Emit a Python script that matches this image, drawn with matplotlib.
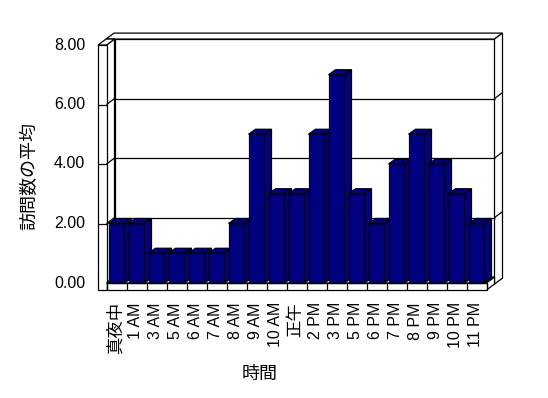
import matplotlib.pyplot as plt
from matplotlib.patches import Polygon

# data
hours = ["真夜中", "1 AM", "3 AM", "5 AM", "6 AM", "7 AM", "8 AM", "9 AM", "10 AM", "正午",
         "2 PM", "3 PM", "5 PM", "6 PM", "7 PM", "8 PM", "9 PM", "10 PM", "11 PM"]
visits = [2, 2, 1, 1, 1, 1, 2, 5, 3, 3, 5, 7, 3, 2, 4, 5, 4, 3, 2]
yticks = [0, 2, 4, 6, 8]

NAVY = "#000080"
LW = 0.9
LATIN = ["Liberation Sans", "Noto Sans CJK JP"]
CJK = ["Noto Sans CJK JP", "DejaVu Sans"]

fig = plt.figure(figsize=(5.48, 3.98), dpi=100)
ax = fig.add_axes([0, 0, 1, 1])
ax.axis("off")

# map data so one category = 20 px and one unit = 29.75 px
ax.set_xlim((0 - 116.5) / 20, (548 - 116.5) / 20)
ax.set_ylim((283 - 398) / 29.75, (283 - 0) / 29.75)

n = len(visits)
XL0, XL1, XR = -0.925, -0.5, n - 0.5
YB, YT = -0.235, 8
DX, DY = 0.4, 0.2          # one step of depth
BDX, BDY = 0.35, 0.168     # depth of the bars


def face(pts, z=1):
    ax.add_patch(Polygon(pts, closed=True, facecolor="white", edgecolor="black",
                         lw=LW, zorder=z))


def seg(x, y, z=2):
    ax.plot(x, y, color="black", lw=LW, zorder=z, solid_capstyle="butt")


# back wall (inner face, top and right side)
face([(XL1 + DX, DY), (XR + DX, DY), (XR + DX, YT + DY), (XL1 + DX, YT + DY)])
face([(XL0 + DX, YT + DY), (XR + DX, YT + DY), (XR + 2 * DX, YT + 2 * DY), (XL0 + 2 * DX, YT + 2 * DY)])
face([(XR + DX, YB + DY), (XR + 2 * DX, YB + 2 * DY), (XR + 2 * DX, YT + 2 * DY), (XR + DX, YT + DY)])
# left wall (inner face, top, front)
face([(XL1, 0), (XL1 + DX, DY), (XL1 + DX, YT + DY), (XL1, YT)])
face([(XL0, YT), (XL1, YT), (XL1 + DX, YT + DY), (XL0 + DX, YT + DY)])
face([(XL0, YB), (XL1, YB), (XL1, YT), (XL0, YT)])
# floor (top, right side, front)
face([(XL1, 0), (XR, 0), (XR + DX, DY), (XL1 + DX, DY)])
face([(XR, YB), (XR + DX, YB + DY), (XR + DX, DY), (XR, 0)])
face([(XL1, YB), (XR, YB), (XR, 0), (XL1, 0)])

# gridlines
for v in yticks[1:-1]:
    seg([XL1 + DX, XR + DX], [v + DY, v + DY])
    seg([XL1, XL1 + DX], [v, v + DY])
    seg([XL0, XL1], [v, v])
    seg([XR + DX, XR + 2 * DX], [v + DY, v + 2 * DY])

# category separators on the floor edge
for k in range(n + 1):
    seg([k - 0.5, k - 0.5], [YB, 0])

# bars
for i, v in enumerate(visits):
    z = 5 + i
    ax.bar(i, v, width=0.8, color=NAVY, edgecolor="black", lw=LW, zorder=z)
    ax.add_patch(Polygon([(i + 0.4, 0), (i + 0.4 + BDX, BDY), (i + 0.4 + BDX, v + BDY), (i + 0.4, v)],
                         facecolor=NAVY, edgecolor="black", lw=LW, zorder=z))
    ax.add_patch(Polygon([(i - 0.4, v), (i + 0.4, v), (i + 0.4 + BDX, v + BDY), (i - 0.4 + BDX, v + BDY)],
                         facecolor=NAVY, edgecolor="black", lw=LW, zorder=z))

# y tick labels
for v in yticks:
    ax.text(-1.575, v, f"{v:.2f}", ha="right", va="center", fontsize=11.5, family=LATIN)

# x tick labels
for i, lab in enumerate(hours):
    cjk = not lab.endswith("M")
    ax.text(i - 0.05, -0.64, lab, rotation=90, ha="center", va="top",
            fontsize=12.5 if cjk else 11.5, family=CJK if cjk else LATIN)

# axis titles
ax.text((29 - 116.5) / 20, (283 - 176) / 29.75, "訪問数の平均", rotation=90,
        ha="center", va="center", fontsize=13, family=CJK)
ax.text((260 - 116.5) / 20, (283 - 374) / 29.75, "時間",
        ha="center", va="center", fontsize=13, family=CJK)

fig.savefig("out.png", dpi=100)
